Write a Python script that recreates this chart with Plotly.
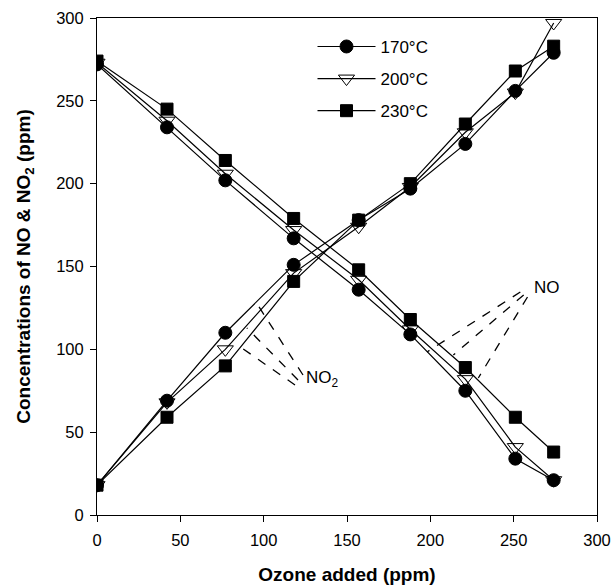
import plotly.graph_objects as go

ozone = [0, 42, 77, 118, 157, 188, 221, 251, 274]

no2_170 = [18, 69, 110, 151, 178, 197, 224, 256, 279]
no2_200 = [18, 68, 100, 146, 174, 198, 231, 255, 297]
no2_230 = [18, 59, 90, 141, 178, 200, 236, 268, 283]

no_170 = [272, 234, 202, 167, 136, 109, 75, 34, 21]
no_200 = [273, 238, 206, 172, 142, 112, 82, 41, 21]
no_230 = [274, 245, 214, 179, 148, 118, 89, 59, 38]

series_names = ["170°C", "200°C", "230°C"]
symbols = ["circle", "triangle-down-open", "square"]
sizes = [13, 14, 12]

# leader lines (data coordinates): (x0, y0, x1, y1)
no_leaders = [(254, 134.6, 198, 98.4), (256, 132.8, 213.8, 96.6), (258.3, 131.6, 228.8, 82.7)]
no2_leaders = [(123.6, 84.5, 96.5, 126.7), (120.6, 81.5, 89.9, 112.9), (118.8, 78.5, 86.9, 100.8)]
labels = [("NO", 270, 137.6), ("NO<sub>2</sub>", 135, 82)]

FONT = "Liberation Sans, Arial, Helvetica"

fig = go.Figure()
for name, sym, sz, no2, no in zip(series_names, symbols, sizes,
                                  [no2_170, no2_200, no2_230],
                                  [no_170, no_200, no_230]):
    fig.add_trace(go.Scatter(
        x=ozone + [None] + ozone, y=no2 + [None] + no,
        mode="lines+markers", name=name, legendgroup=name,
        line=dict(color="black", width=1.2),
        marker=dict(symbol=sym, size=sz, color="black",
                    line=dict(color="black", width=1)),
    ))

for x0, y0, x1, y1 in no_leaders + no2_leaders:
    fig.add_shape(type="line", x0=x0, y0=y0, x1=x1, y1=y1, xref="x", yref="y",
                  line=dict(color="black", width=1.3, dash="dash"))

for txt, x, y in labels:
    fig.add_annotation(x=x, y=y, text=txt, showarrow=False,
                       font=dict(family=FONT, size=17, color="black"))

axis_common = dict(
    showgrid=False, zeroline=False, showline=True, linecolor="black", linewidth=1,
    mirror=True, ticks="outside", ticklen=6, tickcolor="black", tickwidth=1,
    tickfont=dict(family=FONT, size=16.5, color="black"), automargin=False,
)
fig.update_xaxes(range=[0, 300], dtick=50, ticklabelstandoff=4, **axis_common,
                 title=dict(text="<b>Ozone added (ppm)</b>", standoff=22,
                            font=dict(family=FONT, size=19, color="black")))
fig.update_yaxes(range=[0, 300], dtick=50, ticklabelstandoff=3, **axis_common,
                 title=dict(text="<b>Concentrations of NO &amp; NO<sub>2</sub> (ppm)</b>", standoff=20,
                            font=dict(family=FONT, size=19, color="black")))

fig.update_layout(
    width=614, height=585,
    margin=dict(l=97, r=17, t=18, b=70),
    plot_bgcolor="white", paper_bgcolor="white",
    showlegend=True,
    legend=dict(x=0.431, y=0.978, xanchor="left", yanchor="top", itemwidth=58,
                bgcolor="rgba(0,0,0,0)", traceorder="grouped", tracegroupgap=7,
                font=dict(family=FONT, size=17, color="black")),
)

fig.write_html("out.html", config={"displayModeBar": False},
               post_script="document.body.style.margin='0';document.body.style.overflow='hidden';")
